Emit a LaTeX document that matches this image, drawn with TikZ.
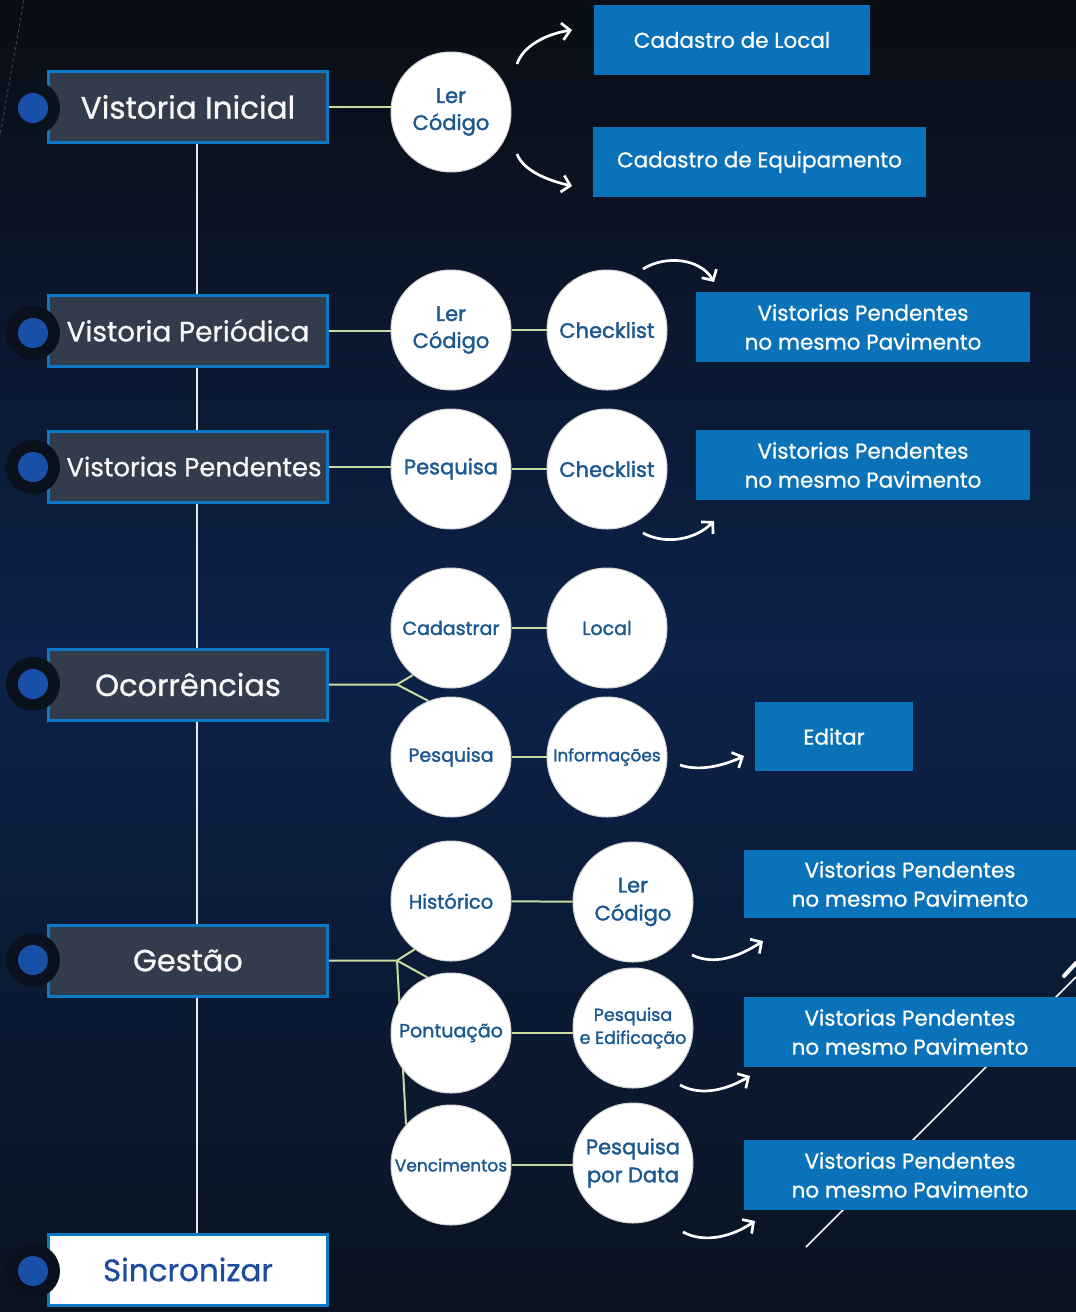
\documentclass[tikz,border=0pt]{standalone}
\usepackage{fontspec}
\setmainfont{Poppins}
\newfontfamily\semib{Poppins}[FakeBold=1.6]
\newfontfamily\medi{Poppins}[FakeBold=0.8]
\usetikzlibrary{arrows.meta,shapes.geometric}
\definecolor{bgtop}{HTML}{0A0D14}
\definecolor{bgmid}{HTML}{0C2249}
\definecolor{bgbot}{HTML}{0A1321}
\definecolor{boxfill}{HTML}{323C4C}
\definecolor{boxline}{HTML}{0B7AC4}
\definecolor{dotblue}{HTML}{1A4FA8}
\definecolor{notch}{HTML}{0A111D}
\definecolor{bluebox}{HTML}{0A72B9}
\definecolor{circtext}{HTML}{1C5890}
\definecolor{conn}{HTML}{C9DBA0}
\definecolor{sinc}{HTML}{1E4CA0}
\pgfdeclarelayer{bg}
\pgfdeclarelayer{lines}
\pgfsetlayers{bg,lines,main}
\tikzset{
  mainbox/.style={draw=boxline, line width=3, fill=boxfill, minimum width=279, minimum height=71, inner sep=0},
  syncbox/.style={mainbox, fill=white},
  maintext/.style={inner sep=0, text=white!94!gray},
  notchc/.style={circle, fill=notch, minimum size=54, inner sep=0},
  dotc/.style={circle, fill=dotblue, minimum size=30, inner sep=0},
  bubble/.style={circle, fill=white, draw=gray!35, line width=1, minimum size=120, inner sep=0, text=circtext, align=center},
  bb/.style={rectangle, fill=bluebox, inner sep=0, text=white, align=center, font=\medi\fontsize{21.5}{29}\selectfont},
  link/.style={draw=conn, line width=2},
  spine/.style={draw=white!82!gray, line width=2},
  arr/.style={draw=white, line width=2.7, -{Straight Barb[length=8,width=17]}},
}
\begin{document}
\begin{tikzpicture}[x=1pt,y=-1pt]
\useasboundingbox (0,0) rectangle (1076,1312);
\begin{pgfonlayer}{bg}
\shade[top color=bgtop, bottom color=bgbot, middle color=bgmid] (0,0) rectangle (1076,1312);
\draw[white, opacity=0.25, dashed, line width=0.8] (24,0) -- (0,135);
\draw[white, line width=1.5] (1076,977) -- (806,1247);
\draw[white, line width=4, line cap=round] (1064,976) -- (1076,963);
\end{pgfonlayer}

% main boxes
\node[mainbox] (b1) at (188,107) {};
\node[mainbox] (b2) at (188,330.5) {};
\node[mainbox] (b3) at (188,466.5) {};
\node[mainbox] (b4) at (188,684.5) {};
\node[mainbox] (b5) at (188,960.5) {};
\node[syncbox] (b6) at (188,1269.5) {};
\foreach \y/\n in {108/1,333/2,467/3,684/4,960/5,1271/6}{
  \node[notchc] (n\n) at (33,\y) {};
  \node[dotc] (d\n) at (33,\y) {};
}
\node[maintext, font=\medi\fontsize{31}{32}\selectfont] (t1) at (b1) {Vistoria Inicial};
\node[maintext, font=\medi\fontsize{28}{32}\selectfont] (t2) at (b2) {Vistoria Periódica};
\node[maintext, font=\medi\fontsize{26}{32}\selectfont] (t3) at ([xshift=6]b3.center) {Vistorias Pendentes};
\node[maintext, font=\medi\fontsize{30.5}{32}\selectfont] (t4) at (b4) {Ocorrências};
\node[maintext, font=\medi\fontsize{30.5}{32}\selectfont] (t5) at (b5) {Gestão};
\node[maintext, text=sinc, font=\medi\fontsize{31}{32}\selectfont] (t6) at (b6) {Sincronizar};

% bubbles
\node[bubble, font=\semib\fontsize{21}{27}\selectfont] (c1) at (451,112) {Ler\\Código};
\node[bubble, font=\semib\fontsize{21}{27}\selectfont] (c2a) at (451,330) {Ler\\Código};
\node[bubble, font=\semib\fontsize{21}{26}\selectfont] (c2b) at (607,330) {Checklist};
\node[bubble, font=\semib\fontsize{21}{26}\selectfont] (c3a) at (451,469) {Pesquisa};
\node[bubble, font=\semib\fontsize{21}{26}\selectfont] (c3b) at (607,469) {Checklist};
\node[bubble, font=\semib\fontsize{19}{24}\selectfont] (c4a) at (451,628) {Cadastrar};
\node[bubble, font=\semib\fontsize{19}{24}\selectfont] (c4b) at (607,628) {Local};
\node[bubble, font=\semib\fontsize{19}{24}\selectfont] (c4c) at (451,757) {Pesquisa};
\node[bubble, font=\semib\fontsize{17}{22}\selectfont] (c4d) at (607,757) {Informações};
\node[bubble, font=\semib\fontsize{19.5}{24}\selectfont] (c5a) at (451,901) {Histórico};
\node[bubble, font=\semib\fontsize{21}{28}\selectfont] (c5b) at (633,902) {Ler\\Código};
\node[bubble, font=\semib\fontsize{19}{24}\selectfont] (c5c) at (451,1033) {Pontuação};
\node[bubble, font=\semib\fontsize{17.5}{23}\selectfont] (c5d) at (633,1028) {Pesquisa\\e Edificação};
\node[bubble, font=\semib\fontsize{17}{22}\selectfont] (c5e) at (451,1165) {Vencimentos};
\node[bubble, font=\semib\fontsize{21}{28}\selectfont] (c5f) at (633,1163) {Pesquisa\\por Data};

% blue boxes
\node[bb, minimum width=276, minimum height=70] (x1) at (732,40) {Cadastro de Local};
\node[bb, minimum width=333, minimum height=70] (x2) at (759.5,162) {Cadastro de Equipamento};
\node[bb, minimum width=334, minimum height=70] (x3) at (863,327) {Vistorias Pendentes\\no mesmo Pavimento};
\node[bb, minimum width=334, minimum height=70] (x4) at (863,465) {Vistorias Pendentes\\no mesmo Pavimento};
\node[bb, minimum width=158, minimum height=69] (x5) at (834,736.5) {Editar};
\node[bb, minimum width=332, minimum height=68] (x6) at (910,884) {Vistorias Pendentes\\no mesmo Pavimento};
\node[bb, minimum width=332, minimum height=70] (x7) at (910,1032) {Vistorias Pendentes\\no mesmo Pavimento};
\node[bb, minimum width=332, minimum height=70] (x8) at (910,1175) {Vistorias Pendentes\\no mesmo Pavimento};

% connectors
\coordinate (sp) at (197,0);
\coordinate (f1) at (397,684.5);
\coordinate (f2) at (397,960.5);
\begin{pgfonlayer}{lines}
\draw[spine] (b1.south -| sp) -- (b6.north -| sp);
\draw[link] (b1.east) -- (b1.east -| c1);
\draw[link] (b2.east) -- (b2.east -| c2a);
\draw[link] (c2a) -- (c2b);
\draw[link] (b3.east) -- (b3.east -| c3a);
\draw[link] (c3a) -- (c3b);
\draw[link] (b4.east) -- (f1) -- (c4a.231);
\draw[link] (f1) -- (c4c.112);
\draw[link] (c4a) -- (c4b);
\draw[link] (c4c) -- (c4d);
\draw[link] (b5.east) -- (f2) -- (c5a.233);
\draw[link] (f2) -- (c5c.113);
\draw[link] (f2) -- (c5e.138);
\draw[link] (c5a) -- (c5b);
\draw[link] (c5c) -- (c5c -| c5d);
\draw[link] (c5e) -- (c5e -| c5f);
\end{pgfonlayer}

% arrows
\coordinate (a1s) at (517,64);   \coordinate (a1e) at (572,30);
\coordinate (a2s) at (517,154);  \coordinate (a2e) at (572,186);
\coordinate (a3s) at (643,269);  \coordinate (a3e) at (714,282);
\coordinate (a4s) at (643,533);  \coordinate (a4e) at (714,521);
\coordinate (a5s) at (680,765);  \coordinate (a5e) at (744,756);
\coordinate (a6s) at (692,955);  \coordinate (a6e) at (763,941);
\coordinate (a7s) at (680,1085); \coordinate (a7e) at (750,1076);
\coordinate (a8s) at (683,1232); \coordinate (a8e) at (755,1221);
\draw[arr] (a1s) .. controls (523,46) and (546,34) .. (a1e);
\draw[arr] (a2s) .. controls (523,170) and (546,180) .. (a2e);
\draw[arr] (a3s) .. controls (665,255) and (700,258) .. (a3e);
\draw[arr] (a4s) .. controls (665,545) and (695,540) .. (a4e);
\draw[arr] (a5s) .. controls (700,772) and (725,765) .. (a5e);
\draw[arr] (a6s) .. controls (715,966) and (740,956) .. (a6e);
\draw[arr] (a7s) .. controls (702,1097) and (728,1089) .. (a7e);
\draw[arr] (a8s) .. controls (705,1244) and (733,1236) .. (a8e);
\end{tikzpicture}
\end{document}
